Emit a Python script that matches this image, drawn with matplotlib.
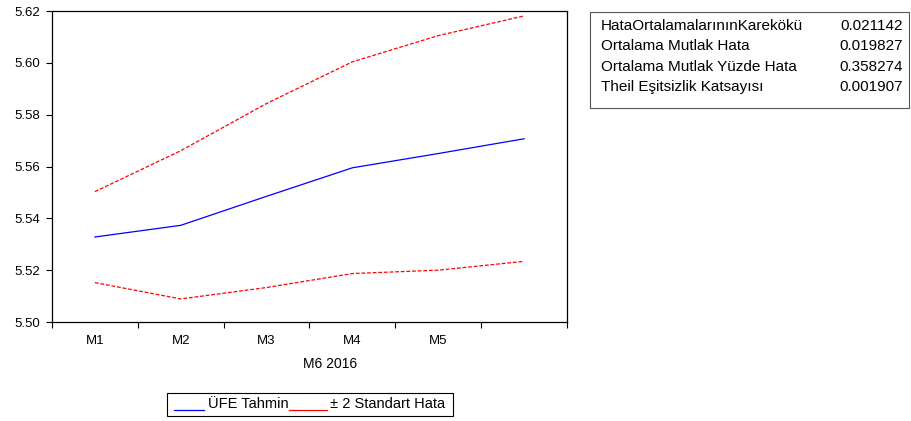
import matplotlib
matplotlib.use("Agg")
import matplotlib.pyplot as plt
from matplotlib.lines import Line2D

plt.rcParams["font.family"] = ["Liberation Sans", "DejaVu Sans"]

# forecast months (6th month label is written under the axis as "M6 2016")
months = ["M1", "M2", "M3", "M4", "M5", ""]
forecast = [5.5328, 5.5373, 5.5485, 5.5595, 5.5650, 5.5707]
upper = [5.5503, 5.5661, 5.5843, 5.6004, 5.6105, 5.6181]
lower = [5.5152, 5.5089, 5.5133, 5.5187, 5.5200, 5.5234]

stat_names = ["HataOrtalamalarınınKarekökü", "Ortalama Mutlak Hata",
              "Ortalama Mutlak Yüzde Hata", "Theil Eşitsizlik Katsayısı"]
stat_values = ["0.021142", "0.019827", "0.358274", "0.001907"]

W, H = 912, 421
fig = plt.figure(figsize=(W / 100, H / 100), dpi=100)

# axes frame in pixel coords
left, right, top, bottom = 52, 567, 11, 322
ax = fig.add_axes([left / W, 1 - bottom / H, (right - left) / W, (bottom - top) / H])

x = list(range(len(forecast)))
ax.plot(x, forecast, color="#0000ff", lw=0.9)
ax.plot(x, upper, color="#ff0000", lw=0.9, ls=(0, (3, 1.5)))
ax.plot(x, lower, color="#ff0000", lw=0.9, ls=(0, (3, 1.5)))

ax.set_xlim(-0.5, len(x) - 0.5)
ax.set_ylim(5.50, 5.62)
ax.set_yticks([5.50, 5.52, 5.54, 5.56, 5.58, 5.60, 5.62])
ax.set_yticklabels(["%.2f" % v for v in ax.get_yticks()], fontsize=9.5)
ax.set_xticks([i - 0.5 for i in range(len(x) + 1)])
ax.set_xticklabels([])
ax.set_xticks(x, minor=True)
ax.set_xticklabels(months, minor=True, fontsize=9.5)
ax.tick_params(axis="x", which="minor", length=0, pad=9)
ax.tick_params(axis="both", which="major", direction="out", length=4.5,
               width=0.8, pad=4)
for s in ax.spines.values():
    s.set_linewidth(0.9)

fig.text(330 / W, 1 - 364 / H, "M6 2016", fontsize=10, ha="center", va="center")

# statistics box
fig.patches.append(plt.Rectangle((590 / W, 1 - 108 / H), 319 / W, 96 / H,
                                 transform=fig.transFigure, fill=False,
                                 lw=0.8, ec="#555555"))
for i, (n, v) in enumerate(zip(stat_names, stat_values)):
    yy = 1 - (26 + 20.3 * i) / H
    fig.text(601 / W, yy, n, fontsize=11, ha="left", va="center")
    fig.text(903 / W, yy, v, fontsize=11, ha="right", va="center")

# legend box
fig.patches.append(plt.Rectangle((167 / W, 1 - 416 / H), 286 / W, 23 / H,
                                 transform=fig.transFigure, fill=False,
                                 lw=0.8, ec="black"))
ly = 1 - 410 / H
fig.lines.append(Line2D([174 / W, 204 / W], [ly, ly], transform=fig.transFigure,
                        color="#0000ff", lw=0.9))
fig.text(208 / W, 1 - 404 / H, "ÜFE Tahmin", fontsize=10.5, ha="left", va="center")
fig.lines.append(Line2D([289 / W, 327 / W], [ly, ly], transform=fig.transFigure,
                        color="#ff0000", lw=0.9))
fig.text(330 / W, 1 - 404 / H, "± 2 Standart Hata", fontsize=10.5, ha="left", va="center")

fig.savefig("out.png", dpi=100)
